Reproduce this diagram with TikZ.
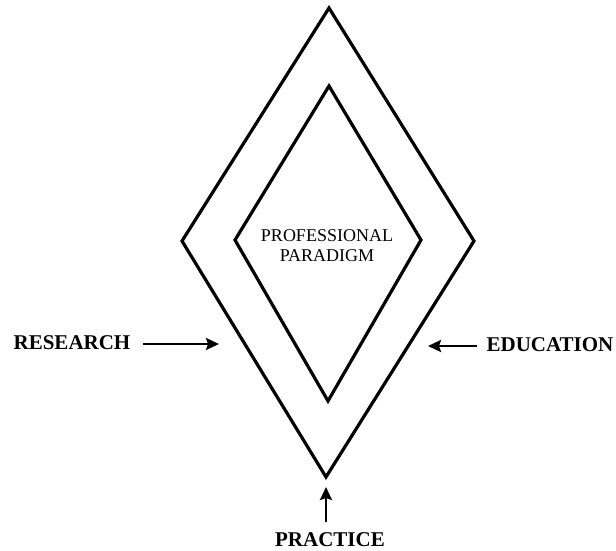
\documentclass[tikz,border=0pt]{standalone}
\usepackage{fontspec}
\setmainfont{Liberation Serif}
\usetikzlibrary{arrows.meta}
\begin{document}
\begin{tikzpicture}[x=1pt,y=-1pt,
  dia/.style={line width=3.2pt, line join=miter},
  lbl/.style={font=\fontsize{21}{24}\selectfont\bfseries, inner sep=0pt, anchor=center},
  arr/.style={line width=2.6pt, -{Stealth[length=13pt,width=12pt,inset=2pt]}}]
\useasboundingbox (0,0) rectangle (616,550);
\coordinate (ot) at (329,8);
\coordinate (ol) at (182,241);
\coordinate (or) at (474,241);
\coordinate (ob) at (326,477);
\draw[dia] (ot) -- (or) -- (ob) -- (ol) -- cycle;
\coordinate (it) at (329,86);
\coordinate (il) at (235,240);
\coordinate (ir) at (421,240);
\coordinate (ib) at (328,401);
\draw[dia] (it) -- (ir) -- (ib) -- (il) -- cycle;
\node[font=\fontsize{18}{20}\selectfont, align=center, inner sep=0pt] (pp) at (327,246) {PROFESSIONAL\\PARADIGM};
\node[lbl] (res) at (72,343) {RESEARCH};
\node[lbl] (edu) at (550,345) {EDUCATION};
\node[lbl] (pra) at (330,540) {PRACTICE};
\coordinate (ra) at (219,344);
\coordinate (ea) at (428,346);
\coordinate (pa) at (326,487);
\draw[arr] (143,344) -- (ra);
\draw[arr] (477,346) -- (ea);
\draw[arr] (326,522) -- (pa);
\end{tikzpicture}
\end{document}
